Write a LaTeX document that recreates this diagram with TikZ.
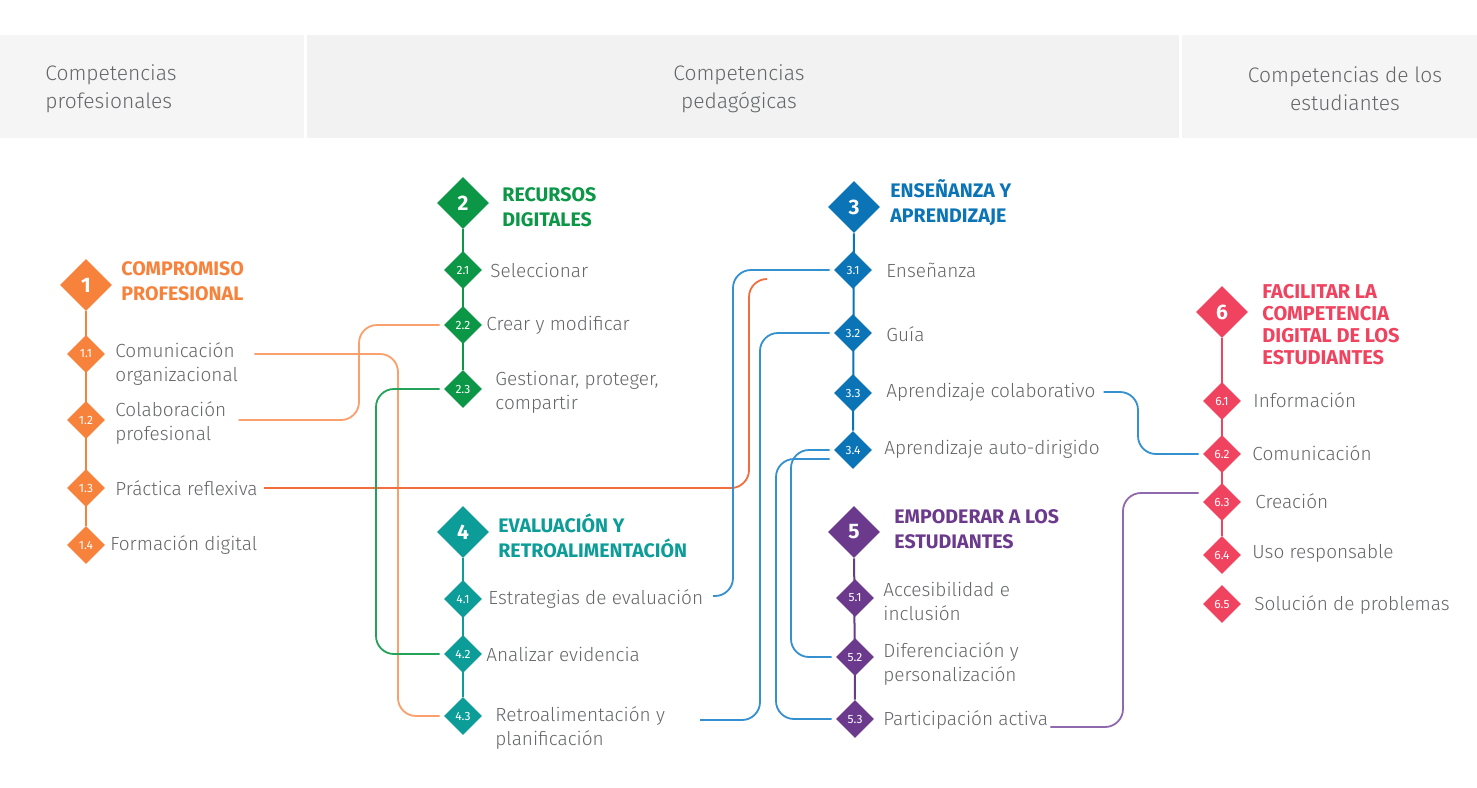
\documentclass[tikz,border=0pt]{standalone}
\usepackage{fontspec}
\setmainfont{Fira Sans Light}[BoldFont={Fira Sans Bold}]
\newfontfamily\numfont{Fira Sans}
\usetikzlibrary{shapes.geometric,calc,backgrounds}
\definecolor{corange}{HTML}{F7823C}
\definecolor{corL}{HTML}{F9A06C}
\definecolor{corD}{HTML}{F26E3E}
\definecolor{cgreen}{HTML}{0C9747}
\definecolor{cgreenL}{HTML}{23A35A}
\definecolor{cblue}{HTML}{0A74B6}
\definecolor{cblueL}{HTML}{3590CF}
\definecolor{cteal}{HTML}{0D9D98}
\definecolor{cpurple}{HTML}{6C3A8D}
\definecolor{cpurpleL}{HTML}{9068AE}
\definecolor{cred}{HTML}{F0435F}
\definecolor{txt}{HTML}{656669}
\definecolor{hdrA}{HTML}{F5F5F5}
\definecolor{hdrB}{HTML}{F1F2F1}
\begin{document}
\begin{tikzpicture}[x=0.5pt,y=-0.5pt,
  sd/.style={diamond, aspect=1, fill=#1, draw=none, minimum width=19pt, minimum height=19pt, inner sep=0pt, text=white, font=\numfont\fontsize{6}{7}\selectfont},
  bd/.style={diamond, aspect=1, fill=#1, draw=none, minimum width=26pt, minimum height=26pt, inner sep=0pt, text=white, font=\bfseries\fontsize{10.5}{12}\selectfont},
  hd/.style={anchor=west, inner sep=0pt, align=left, text=#1, font=\bfseries\fontsize{9.8}{12.5}\selectfont},
  lbl/.style={anchor=west, inner sep=0pt, align=left, text=txt, font=\fontsize{9.5}{12}\selectfont},
  hdr/.style={inner sep=0pt, text=txt, font=\fontsize{10.5}{14}\selectfont},
  link/.style={draw=#1, line width=0.9pt, rounded corners=9pt},
  colline/.style={draw=#1, line width=1pt}
]
\useasboundingbox (0,0) rectangle (1477,787);
% header
\fill[hdrA] (0,35) rectangle (304,138);
\fill[hdrB] (307,35) rectangle (1179,138);
\fill[hdrA] (1182,35) rectangle (1477,138);
\node[hdr,anchor=west,align=left] (h1) at (45,89) {Competencias\\profesionales};
\node[hdr,align=center] (h2) at (739,89) {Competencias\\pedagógicas};
\node[hdr,align=center] (h3) at (1345,89) {Competencias de los\\estudiantes};

% column 1
\node[bd=corange] (d1) at (86,285) {1};
\node[hd=corange] (t1) at (121,281) {COMPROMISO\\PROFESIONAL};
\node[sd=corange] (d11) at (86,354) {1.1};
\node[sd=corange] (d12) at (86,420) {1.2};
\node[sd=corange] (d13) at (86,488) {1.3};
\node[sd=corange] (d14) at (86,545) {1.4};
\node[lbl] (l11) at (115,364) {Comunicación\\organizacional};
\node[lbl] (l12) at (115,423) {Colaboración\\profesional};
\node[lbl] (l13) at (115,488) {Práctica reflexiva};
\node[lbl] (l14) at (110,545) {Formación digital};

% column 2
\node[bd=cgreen] (d2) at (463,203) {2};
\node[hd=cgreen] (t2) at (502,207) {RECURSOS\\DIGITALES};
\node[sd=cgreen] (d21) at (463,270) {2.1};
\node[sd=cgreen] (d22) at (463,325) {2.2};
\node[sd=cgreen] (d23) at (463,389) {2.3};
\node[lbl] (l21) at (490,270) {Seleccionar};
\node[lbl] (l22) at (486,325) {Crear y modificar};
\node[lbl] (l23) at (495,392) {Gestionar, proteger,\\compartir};

% column 4
\node[bd=cteal] (d4) at (463,532) {4};
\node[hd=cteal] (t4) at (498,536) {EVALUACIÓN Y\\RETROALIMENTACIÓN};
\node[sd=cteal] (d41) at (463,599) {4.1};
\node[sd=cteal] (d42) at (463,654) {4.2};
\node[sd=cteal] (d43) at (463,716) {4.3};
\node[lbl] (l41) at (488,599) {Estrategias de evaluación};
\node[lbl] (l42) at (486,654) {Analizar evidencia};
\node[lbl] (l43) at (495,728) {Retroalimentación y\\planificación};

% column 3
\node[bd=cblue] (d3) at (854,207) {3};
\node[hd=cblue] (t3) at (890,203) {ENSEÑANZA Y\\APRENDIZAJE};
\node[sd=cblue] (d31) at (853,270) {3.1};
\node[sd=cblue] (d32) at (853,333) {3.2};
\node[sd=cblue] (d33) at (853,393) {3.3};
\node[sd=cblue] (d34) at (853,450) {3.4};
\node[lbl] (l31) at (886,270) {Enseñanza};
\node[lbl] (l32) at (886,334) {Guía};
\node[lbl] (l33) at (886,392) {Aprendizaje colaborativo};
\node[lbl] (l34) at (884,449) {Aprendizaje auto-dirigido};

% column 5
\node[bd=cpurple] (d5) at (854,532) {5};
\node[hd=cpurple] (t5) at (894,529) {EMPODERAR A LOS\\ESTUDIANTES};
\node[sd=cpurple] (d51) at (855,598) {5.1};
\node[sd=cpurple] (d52) at (855,657) {5.2};
\node[sd=cpurple] (d53) at (855,719) {5.3};
\node[lbl] (l51) at (883,601) {Accesibilidad e\\inclusión};
\node[lbl] (l52) at (883,664) {Diferenciación y\\personalización};
\node[lbl] (l53) at (883,720) {Participación activa};

% column 6
\node[bd=cred] (d6) at (1222,312) {6};
\node[hd=cred, font=\bfseries\fontsize{10}{11}\selectfont] (t6) at (1262,325) {FACILITAR LA\\COMPETENCIA\\DIGITAL DE LOS\\ESTUDIANTES};
\node[sd=cred] (d61) at (1222,401) {6.1};
\node[sd=cred] (d62) at (1222,454) {6.2};
\node[sd=cred] (d63) at (1222,502) {6.3};
\node[sd=cred] (d64) at (1222,555) {6.4};
\node[sd=cred] (d65) at (1222,604) {6.5};
\node[lbl] (l61) at (1253,400) {Información};
\node[lbl] (l62) at (1252,453) {Comunicación};
\node[lbl] (l63) at (1255,501) {Creación};
\node[lbl] (l64) at (1252,553) {Uso responsable};
\node[lbl] (l65) at (1254,605) {Solución de problemas};

% bend lines and free ends
\coordinate (xa) at (398,0);
\coordinate (xb) at (359,0);
\coordinate (xc) at (749,0);
\coordinate (xd) at (376,0);
\coordinate (xe) at (733,0);
\coordinate (xf) at (760,0);
\coordinate (xg) at (1138,0);
\coordinate (xh) at (791,0);
\coordinate (xi) at (776,0);
\coordinate (xj) at (1123,0);
\coordinate (e13) at (767,279);
\coordinate (e41) at (713,596);
\coordinate (e43) at (700,720);
\coordinate (e63) at ($(d63.west)+(-2pt,4.5pt)$);
\coordinate (s34) at ($(d34.west)+(-2pt,-4.5pt)$);

\begin{scope}[on background layer]
\fill[white] (0,140) rectangle (1477,787);
\fill[white] (0,0) rectangle (1477,35);
% column lines
\draw[colline=corange] (d1) -- (d14);
\draw[colline=cgreen] (d2) -- (d23);
\draw[colline=cteal] (d4) -- (d43);
\draw[colline=cblue] (d3) -- (d34);
\draw[colline=cpurple] (d5) -- (d53);
\draw[colline=cred] (d6) -- (d64);
% connectors
\draw[link=corL] ($(l11.east |- d11)+(8pt,0)$) -| (xa |- d43) -- ([xshift=-2pt]d43.west);
\draw[link=corL] ($(l12.east |- d12)+(6pt,0)$) -| (xb |- d22) -- ([xshift=-2pt]d22.west);
\draw[link=corD] ($(l13.east)+(3pt,0)$) -| (xc |- e13) -- (e13);
\draw[link=cgreenL] ([xshift=-2pt]d23.west) -| (xd |- d42) -- ([xshift=-2pt]d42.west);
\draw[link=cblueL] ([xshift=-2pt]d31.west) -| (xe |- e41) -- (e41);
\draw[link=cblueL] ([xshift=-2pt]d32.west) -| (xf |- e43) -- (e43);
\draw[link=cblueL] ($(l33.east)+(4pt,0)$) -| (xg |- d62) -- ([xshift=-2pt]d62.west);
\draw[link=cblueL] ([xshift=-2pt]d34.west) -| (xh |- d52) -- ([xshift=-2pt]d52.west);
\draw[link=cblueL] (s34) -| (xi |- d53) -- ([xshift=-2pt]d53.west);
\draw[link=cpurpleL] ($(l53.east)+(1pt,-3.5pt)$) -| (xj |- e63) -- (e63);
\end{scope}
\end{tikzpicture}
\end{document}
